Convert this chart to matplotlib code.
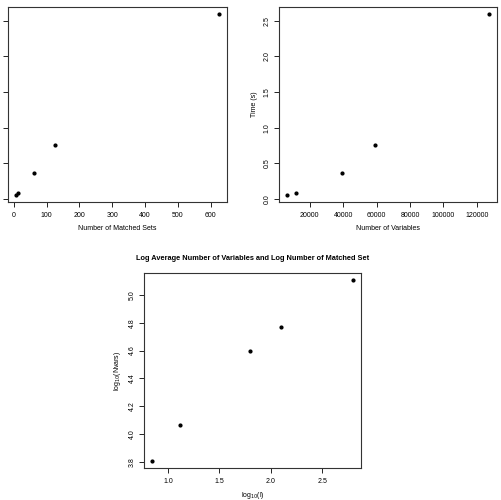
import matplotlib
matplotlib.use("Agg")
import matplotlib.pyplot as plt
import numpy as np

plt.rcParams['font.family'] = ['Liberation Sans', 'DejaVu Sans']

# datos
n_sets = [7, 13, 63, 125, 625]
n_vars = [6450, 11600, 39600, 59000, 127200]
tiempo = [0.06, 0.084, 0.368, 0.756, 2.59]

log_l = np.log10(n_sets)
log_vars = np.log10(n_vars)

fs = 5


def estilo(ax, x, y):
    # rango al estilo R: 4% extra
    dx = (max(x) - min(x)) * 0.04
    dy = (max(y) - min(y)) * 0.04
    ax.set_xlim(min(x) - dx, max(x) + dx)
    ax.set_ylim(min(y) - dy, max(y) + dy)
    ax.tick_params(labelsize=fs, length=3.5, width=0.6)
    ax.tick_params(axis='x', pad=4)
    ax.tick_params(axis='y', pad=2.5)
    for lab in ax.get_yticklabels():
        lab.set_rotation(90)
        lab.set_va('center')
    for s in ax.spines.values():
        s.set_linewidth(0.8)
        s.set_color('#333333')


fig = plt.figure(figsize=(5.01, 5.0), dpi=100)

# a. Tiempo vs numero de conjuntos (el eje y queda fuera del recorte)
ax1 = fig.add_axes([8 / 501, 1 - 202 / 500, 219 / 501, 195 / 500])
ax1.scatter(n_sets, tiempo, s=4, color='black')
ax1.set_xticks([0, 100, 200, 300, 400, 500, 600])
ax1.set_yticks([0.0, 0.5, 1.0, 1.5, 2.0, 2.5])
ax1.set_xlabel("Number of Matched Sets", fontsize=fs, labelpad=4)
estilo(ax1, n_sets, tiempo)
ax1.tick_params(axis='y', labelleft=False)

# b. Tiempo vs numero de variables
ax2 = fig.add_axes([279 / 501, 1 - 202 / 500, 218 / 501, 195 / 500])
ax2.scatter(n_vars, tiempo, s=4, color='black')
ax2.set_xticks([20000, 40000, 60000, 80000, 100000, 120000])
ax2.set_xticklabels(['20000', '40000', '60000', '80000', '100000', '120000'])
ax2.set_yticks([0.0, 0.5, 1.0, 1.5, 2.0, 2.5])
ax2.set_xlabel("Number of Variables", fontsize=fs, labelpad=4)
ax2.set_ylabel("Time (s)", fontsize=fs, labelpad=4)
estilo(ax2, n_vars, tiempo)

# c. log-log
ax3 = fig.add_axes([144 / 501, 1 - 468 / 500, 217 / 501, 195 / 500])
ax3.scatter(log_l, log_vars, s=4, color='black')
ax3.set_xticks([1.0, 1.5, 2.0, 2.5])
ax3.set_yticks([3.8, 4.0, 4.2, 4.4, 4.6, 4.8, 5.0])
ax3.set_xlabel(r"log$_{10}$(l)", fontsize=fs, labelpad=3)
ax3.set_ylabel(r"log$_{10}$(Nvars)", fontsize=fs, labelpad=4)
ax3.set_title("Log Average Number of Variables and Log Number of Matched Set",
              fontsize=5.3, fontweight='bold', pad=9)
estilo(ax3, log_l, log_vars)

fig.savefig("out.png", dpi=100)
